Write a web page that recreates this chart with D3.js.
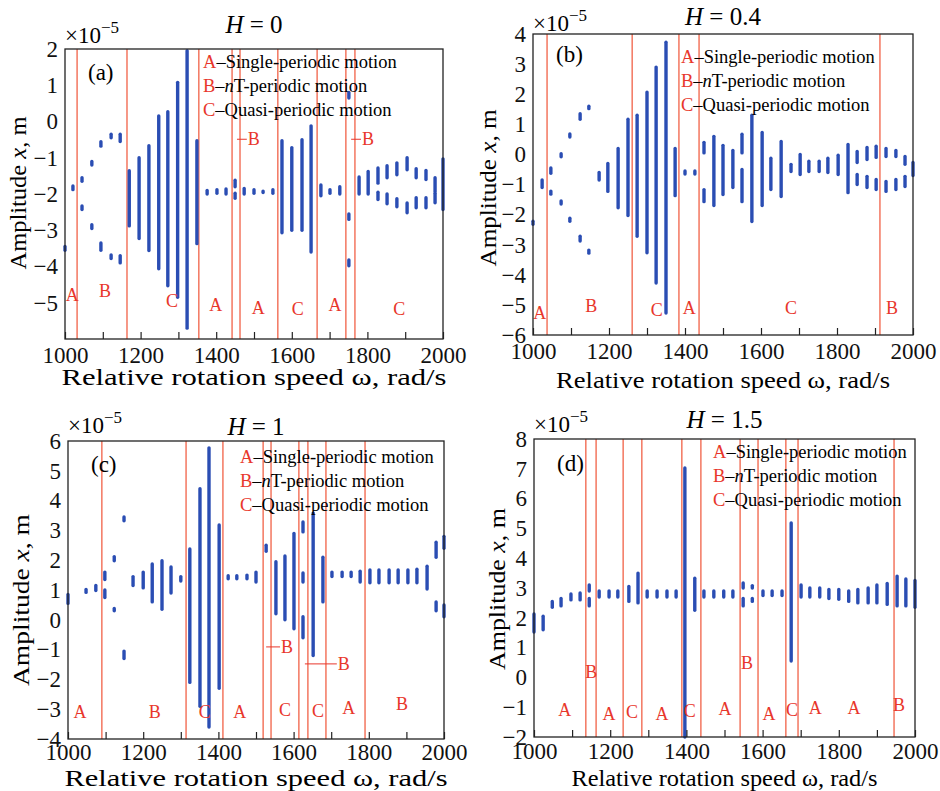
<!DOCTYPE html>
<html>
<head>
<meta charset="utf-8">
<script src="https://cdn.jsdelivr.net/npm/d3@7"></script>
<style>
  body { margin: 0; background: #fff; }
  text { font-family: "Liberation Serif", "DejaVu Serif", serif; }
</style>
</head>
<body>
<svg width="940" height="791"></svg>
<script>
// omega range and tick labels shared by all panels
var omegaDomain = [1000, 2000];
var omegaTicks = d3.range(1000, 2001, 100);
var legendRows = [["A", "Single-periodic motion"], ["B", "nT-periodic motion"], ["C", "Quasi-periodic motion"]];

// ---- (a) H = 0 ----  [omega, low, high] in 1e-5 m
var segA = [
  [1000, -3.55, -3.45], [1021, -1.88, -1.78],
  [1045, -1.65, -1.55], [1071, -1.2, -1.1], [1095, -0.68, -0.56], [1122, -0.45, -0.35], [1146, -0.55, -0.35],
  [1045, -2.43, -2.33], [1071, -2.95, -2.85], [1095, -3.55, -3.35], [1122, -3.78, -3.68], [1146, -3.9, -3.7],
  [1170, -2.88, -1.36], [1196, -3.23, -1.0], [1222, -3.56, -0.67], [1248, -4.06, 0.15],
  [1272, -4.53, 0.27], [1298, -4.85, 1.08], [1323, -5.7, 1.95], [1349, -3.37, -0.53],
  [1376, -2.0, -1.9], [1402, -1.98, -1.88], [1426, -2.0, -1.86], [1450, -1.8, -1.62], [1450, -2.12, -1.98],
  [1474, -2.0, -1.85], [1500, -1.98, -1.88], [1524, -1.96, -1.92], [1550, -1.98, -1.88],
  [1574, -3.07, -0.53], [1600, -3.0, -0.72], [1627, -3.0, -0.5], [1651, -3.6, -0.12],
  [1677, -2.05, -1.75], [1701, -1.98, -1.88], [1727, -2.0, -1.8],
  [1751, 0.65, 0.8], [1751, -2.7, -2.55], [1751, -3.98, -3.82],
  [1778, -2.0, -1.53], [1802, -2.0, -1.38], [1828, -1.7, -1.28], [1828, -2.15, -1.95],
  [1852, -1.55, -1.22], [1852, -2.27, -2.0], [1878, -1.47, -1.14], [1878, -2.35, -2.13],
  [1905, -1.33, -1.0], [1905, -2.52, -2.25], [1929, -1.55, -1.3], [1929, -2.38, -2.1],
  [1955, -1.6, -1.35], [1955, -2.38, -2.1], [1979, -1.93, -1.55], [1979, -2.24, -1.98],
  [2000, -2.43, -1.03]
];
var linesA = [1032, 1164, 1354, 1442, 1463, 1563, 1667, 1743, 1767];
var labelsA = [["A", 1019, -4.79], ["B", 1106, -4.68], ["C", 1283, -4.95], ["A", 1399, -5.06],
  ["A", 1511, -5.15], ["C", 1616, -5.17], ["A", 1714, -5.06], ["C", 1884, -5.17]];
var notesA = [[1455, 1481, -0.49], [1757, 1783, -0.49]];
var yTicksA = [-5, -4, -3, -2, -1, 0, 1, 2];

// ---- (b) H = 0.4 ----
var segB = [
  [1000, -2.32, -2.22], [1024, -1.1, -0.85],
  [1047, -0.63, -0.45], [1074, -0.08, 0.02], [1097, 0.58, 0.68], [1124, 1.17, 1.35], [1147, 1.52, 1.6],
  [1047, -1.32, -1.22], [1074, -1.65, -1.55], [1097, -2.22, -2.12], [1124, -2.88, -2.72], [1147, -3.28, -3.18],
  [1174, -0.85, -0.6], [1197, -1.23, -0.3], [1224, -1.77, 0.2], [1250, -2.03, 1.17],
  [1274, -2.72, 1.3], [1300, -3.27, 2.07], [1324, -4.27, 2.9], [1350, -5.27, 3.73], [1374, -1.37, 0.2],
  [1400, -0.65, -0.55], [1426, -0.65, -0.55],
  [1450, 0.05, 0.4], [1450, -1.57, -1.17], [1476, -1.7, 0.6], [1500, -1.33, 0.3], [1526, -1.1, 0.13],
  [1550, 0.05, 0.67], [1550, -1.57, -0.5], [1576, -2.23, 1.3], [1603, -1.7, 0.73], [1626, -1.17, -0.13],
  [1653, -1.4, 0.43], [1679, -0.57, -0.33], [1703, -0.67, 0.0], [1726, -0.57, -0.23], [1753, -0.57, -0.23],
  [1776, -0.6, -0.13], [1803, -0.67, -0.03], [1829, -1.27, 0.33],
  [1853, -0.27, 0.1], [1853, -1.0, -0.67], [1879, -0.17, 0.23], [1879, -1.1, -0.73],
  [1903, -0.1, 0.27], [1903, -1.17, -0.83], [1929, -0.07, 0.2], [1929, -1.23, -0.9],
  [1955, -0.07, 0.13], [1955, -1.17, -0.83], [1979, -0.33, -0.07], [1979, -1.07, -0.73],
  [2000, -0.7, -0.27]
];
var linesB = [1037, 1261, 1384, 1437, 1913];
var labelsB = [["A", 1018, -5.27], ["B", 1153, -5.03], ["C", 1326, -5.17], ["A", 1411, -5.1],
  ["C", 1679, -5.1], ["B", 1945, -5.1]];
var notesB = [];
var yTicksB = d3.range(-6, 5);

// ---- (c) H = 1 ----
var segC = [
  [1000, 0.55, 0.85], [1048, 0.92, 1.02], [1074, 0.98, 1.15], [1098, 1.35, 1.6], [1098, 0.75, 1.0],
  [1123, 1.98, 2.12], [1123, 0.3, 0.38], [1149, 3.32, 3.45], [1149, -1.3, -1.05],
  [1173, 1.15, 1.45], [1200, 1.07, 1.6], [1224, 0.6, 1.87], [1250, 0.35, 1.98], [1274, 0.9, 1.77],
  [1300, 1.3, 1.45],
  [1324, -2.1, 2.38], [1351, -2.9, 4.4], [1375, -3.6, 5.77], [1402, -2.3, 3.18],
  [1426, 1.38, 1.48], [1449, 1.38, 1.48], [1476, 1.38, 1.5], [1500, 1.27, 1.6],
  [1527, 2.3, 2.5],
  [1553, 0.2, 1.95], [1577, 0.0, 2.14], [1601, -0.3, 2.9],
  [1625, 2.95, 3.28], [1625, 1.27, 1.57], [1625, -0.6, 0.1],
  [1652, -1.2, 3.58], [1678, 0.6, 2.1],
  [1702, 1.45, 1.6], [1729, 1.45, 1.6], [1753, 1.45, 1.6], [1777, 1.27, 1.63],
  [1803, 1.24, 1.67], [1827, 1.24, 1.67], [1854, 1.24, 1.67], [1878, 1.24, 1.67], [1904, 1.24, 1.67],
  [1928, 1.24, 1.7], [1955, 1.03, 1.8], [1979, 2.1, 2.6], [1979, 0.3, 0.6], [2000, 2.4, 2.8], [2000, 0.1, 0.5]
];
var linesC = [1090, 1314, 1412, 1519, 1540, 1614, 1638, 1686, 1790];
var labelsC = [["A", 1032, -3.09], ["B", 1231, -3.09], ["C", 1364, -3.09], ["A", 1457, -3.09],
  ["C", 1577, -3.03], ["C", 1665, -3.06], ["A", 1747, -2.96], ["B", 1888, -2.83]];
var notesC = [[1527, 1564, -0.91], [1630, 1715, -1.48]];
var yTicksC = d3.range(-4, 7);

// ---- (d) H = 1.5 ----
var segD = [
  [1000, 1.52, 2.13], [1024, 1.6, 2.05], [1048, 2.35, 2.55], [1071, 2.4, 2.65], [1097, 2.6, 2.8], [1121, 2.6, 2.83],
  [1145, 2.9, 3.1], [1145, 2.4, 2.65],
  [1171, 2.7, 2.9], [1197, 2.7, 2.9], [1220, 2.7, 2.9], [1249, 2.55, 3.05], [1273, 2.5, 3.5],
  [1297, 2.7, 2.9], [1323, 2.7, 2.9], [1349, 2.7, 2.9], [1373, 2.7, 2.9],
  [1396, -2.0, 7.03], [1422, 2.25, 3.33],
  [1446, 2.7, 2.9], [1472, 2.7, 2.9], [1498, 2.7, 2.9], [1522, 2.7, 2.9],
  [1549, 3.0, 3.17], [1549, 2.4, 2.65], [1573, 3.0, 3.08], [1573, 2.55, 2.65],
  [1601, 2.75, 2.9], [1625, 2.75, 2.9], [1651, 2.75, 2.9],
  [1675, 0.55, 5.18],
  [1701, 2.7, 3.1], [1724, 2.7, 3.0], [1750, 2.7, 3.0], [1774, 2.65, 2.95], [1800, 2.62, 2.95],
  [1826, 2.55, 2.9], [1850, 2.5, 2.95], [1877, 2.5, 3.0], [1900, 2.5, 3.1], [1927, 2.45, 3.15],
  [1953, 2.4, 3.4], [1976, 2.4, 3.3], [2000, 2.35, 3.25]
];
var linesD = [1136, 1163, 1234, 1283, 1388, 1438, 1541, 1588, 1661, 1693, 1945];
var labelsD = [["A", 1081, -1.09], ["B", 1150, 0.18], ["A", 1197, -1.23], ["C", 1257, -1.16],
  ["A", 1336, -1.23], ["C", 1409, -1.13], ["A", 1501, -1.06], ["B", 1559, 0.48], ["A", 1617, -1.23],
  ["C", 1677, -1.09], ["A", 1738, -1.03], ["A", 1840, -1.03], ["B", 1958, -0.93]];
var notesD = [];
var yTicksD = d3.range(-2, 9);

var svg = d3.select("svg");
var blue = "#2a4db3";
var red = "#e8362b";
var redLine = "#f3765f";

// layout of each panel (the source figure is stretched a little sideways, so the axis titles get fixed lengths)
var panels = [
  {tag: "(a)", H: "0", segs: segA, lines: linesA, labels: labelsA, notes: notesA, yTicks: yTicksA, yDomain: [-6, 2],
   left: 65, right: 443, top: 49, bottom: 339, titleY: 33, expY: 43, tagY: 80, legX: 203, legY: 68,
   xlabY: 385, xlabLen: 385, ylabX: 26, ylabY: 193, ylabLen: 153, pad: 8},
  {tag: "(b)", H: "0.4", segs: segB, lines: linesB, labels: labelsB, notes: notesB, yTicks: yTicksB, yDomain: [-6, 4],
   left: 533, right: 913, top: 34, bottom: 335, titleY: 25, expY: 31, tagY: 62, legX: 681, legY: 63,
   xlabY: 388, xlabLen: 334, ylabX: 496, ylabY: 188, ylabLen: 157, pad: 8},
  {tag: "(c)", H: "1", segs: segC, lines: linesC, labels: labelsC, notes: notesC, yTicks: yTicksC, yDomain: [-4, 6],
   left: 68, right: 444, top: 441, bottom: 739, titleY: 435, expY: 433, tagY: 472, legX: 240, legY: 463,
   xlabY: 786, xlabLen: 383, ylabX: 29, ylabY: 600, ylabLen: 172, pad: 5},
  {tag: "(d)", H: "1.5", segs: segD, lines: linesD, labels: labelsD, notes: notesD, yTicks: yTicksD, yDomain: [-2, 8],
   left: 534, right: 915, top: 439, bottom: 737, titleY: 428, expY: 432, tagY: 471, legX: 713, legY: 458,
   xlabY: 786, xlabLen: 306, ylabX: 505, ylabY: 589, ylabLen: 162, pad: 6}
];

panels.forEach(drawPanel);

function drawPanel(p) {
  var x = d3.scaleLinear().domain(omegaDomain).range([p.left, p.right]);
  var y = d3.scaleLinear().domain(p.yDomain).range([p.bottom, p.top]);
  var g = svg.append("g");

  // regime boundaries
  g.selectAll(".bound").data(p.lines).enter().append("line")
    .attr("x1", d => x(d)).attr("x2", d => x(d))
    .attr("y1", p.top).attr("y2", p.bottom)
    .attr("stroke", redLine).attr("stroke-width", 1.5);

  // bifurcation points / bands
  g.selectAll(".seg").data(p.segs).enter().append("line")
    .attr("x1", d => x(d[0])).attr("x2", d => x(d[0]))
    .attr("y1", d => y(d[1])).attr("y2", d => y(d[2]))
    .attr("stroke", blue).attr("stroke-width", 3.4)
    .attr("stroke-linecap", "round");

  // regime letters
  g.selectAll(".lab").data(p.labels).enter().append("text")
    .attr("x", d => x(d[1])).attr("y", d => y(d[2]))
    .attr("text-anchor", "middle").attr("dominant-baseline", "central")
    .attr("font-size", 18).attr("fill", red)
    .text(d => d[0]);

  // small "–B" pointers
  p.notes.forEach(function (n) {
    g.append("line").attr("x1", x(n[0])).attr("x2", x(n[1]))
      .attr("y1", y(n[2])).attr("y2", y(n[2]))
      .attr("stroke", red).attr("stroke-width", 1);
    g.append("text").attr("x", x(n[1]) + 1).attr("y", y(n[2]))
      .attr("dominant-baseline", "central").attr("font-size", 18).attr("fill", red).text("B");
  });

  // frame
  g.append("rect").attr("x", p.left).attr("y", p.top)
    .attr("width", p.right - p.left).attr("height", p.bottom - p.top)
    .attr("fill", "none").attr("stroke", "#222").attr("stroke-width", 1.3);

  // x axis, ticks pointing in
  var xa = g.append("g").attr("transform", `translate(0,${p.bottom})`)
    .call(d3.axisBottom(x).tickValues(omegaTicks).tickSizeInner(-7).tickSizeOuter(0).tickPadding(p.pad)
      .tickFormat(d => d % 200 === 0 ? d : ""));
  xa.select(".domain").remove();
  xa.selectAll("line").attr("stroke", "#222").attr("stroke-width", 1.2);
  xa.selectAll("text").attr("font-size", 23).attr("fill", "#111")
    .style("font-family", "'Liberation Serif', serif");

  // y axis
  var ya = g.append("g").attr("transform", `translate(${p.left},0)`)
    .call(d3.axisLeft(y).tickValues(p.yTicks).tickSize(0).tickPadding(7));
  ya.select(".domain").remove();
  ya.selectAll("text").attr("font-size", 23).attr("fill", "#111")
    .style("font-family", "'Liberation Serif', serif");

  // title
  var t = g.append("text").attr("x", (p.left + p.right) / 2).attr("y", p.titleY)
    .attr("text-anchor", "middle").attr("font-size", 25);
  t.append("tspan").attr("font-style", "italic").text("H");
  t.append("tspan").text(" = " + p.H);

  // exponent
  var e = g.append("text").attr("x", p.left).attr("y", p.expY).attr("font-size", 23);
  e.append("tspan").text("×10");
  e.append("tspan").attr("font-size", 17).attr("dy", -10).text("−5");

  // panel tag
  g.append("text").attr("x", p.left + 23).attr("y", p.tagY).attr("font-size", 23).text(p.tag);

  // legend
  legendRows.forEach(function (r, i) {
    var lt = g.append("text").attr("x", p.legX).attr("y", p.legY + i * 24).attr("font-size", 18.5);
    lt.append("tspan").attr("fill", red).text(r[0]);
    if (r[0] === "B") {
      lt.append("tspan").text("–");
      lt.append("tspan").attr("font-style", "italic").text("n");
      lt.append("tspan").text(r[1].slice(1));
    } else {
      lt.append("tspan").text("–" + r[1]);
    }
  });

  // axis titles
  g.append("text").attr("x", (p.left + p.right) / 2).attr("y", p.xlabY)
    .attr("text-anchor", "middle").attr("font-size", 24)
    .attr("textLength", p.xlabLen).attr("lengthAdjust", "spacingAndGlyphs")
    .text("Relative rotation speed ω, rad/s");
  var yl = g.append("text").attr("transform", `translate(${p.ylabX},${p.ylabY}) rotate(-90)`)
    .attr("text-anchor", "middle").attr("font-size", 23)
    .attr("textLength", p.ylabLen).attr("lengthAdjust", "spacingAndGlyphs");
  yl.append("tspan").text("Amplitude ");
  yl.append("tspan").attr("font-style", "italic").text("x");
  yl.append("tspan").text(", m");
}
</script>
</body>
</html>
